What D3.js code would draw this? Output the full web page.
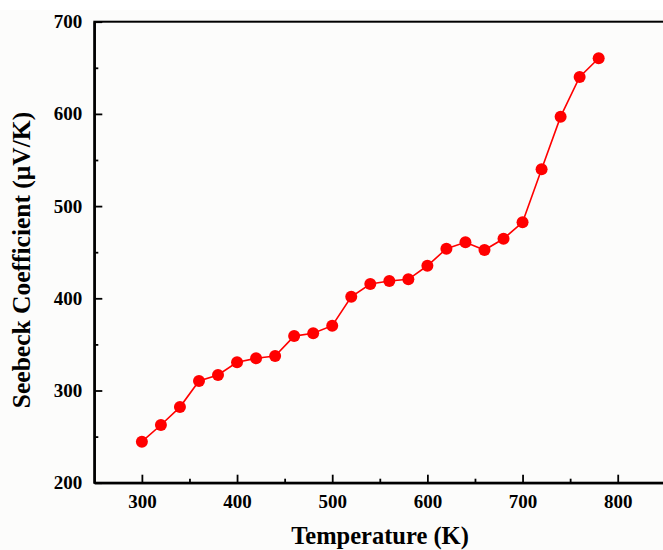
<!DOCTYPE html>
<html>
<head>
<meta charset="utf-8">
<script src="https://cdn.jsdelivr.net/npm/d3@7"></script>
<style>
html,body{margin:0;padding:0;background:#fff;}
svg{display:block;}
text{font-family:"Liberation Serif","Times New Roman",serif;font-weight:bold;fill:#000;}
</style>
</head>
<body>
<svg id="chart" width="663" height="550"></svg>
<script>
const temperature = [300,320,340,360,380,400,420,440,460,480,500,520,540,560,580,600,620,640,660,680,700,720,740,760,780];
const seebeck = [244.5,262.6,282,310.3,316.8,330.6,334.9,337.4,359,362,370.3,401.7,415.5,418.8,420.6,435.3,453.8,460.7,452.4,464.6,482.4,540,597,640,660.3];
const xTicks = [300,400,500,600,700,800];
const xMinorTicks = [350,450,550,650,750];
const yTicks = [200,300,400,500,600,700];
const yMinorTicks = [250,350,450,550,650];
const xTitle = "Temperature (K)";
const yTitle = "Seebeck Coefficient (\u03BCV/K)";

const svg = d3.select("#chart");
const mLeft = 94.3, mRight = 665.3, mTop = 21.7, mBottom = 482.7;

svg.append("rect").attr("x",0).attr("y",10).attr("width",663).attr("height",540).attr("fill","#fcfcfb");

const x = d3.scaleLinear().domain([250,850]).range([mLeft,mRight]);
const y = d3.scaleLinear().domain([200,700]).range([mBottom,mTop]);

// frame
svg.append("rect").attr("x",mLeft).attr("y",mTop).attr("width",mRight-mLeft).attr("height",mBottom-mTop)
  .attr("fill","none").attr("stroke","#000").attr("stroke-width",2);

// x axis
svg.append("g").attr("transform",`translate(0,${mBottom})`)
  .call(d3.axisBottom(x).tickValues(xTicks).tickFormat(d3.format("d")).tickSizeInner(-8).tickSizeOuter(0).tickPadding(12));
svg.append("g").attr("transform",`translate(0,${mBottom})`)
  .call(d3.axisBottom(x).tickValues(xMinorTicks).tickFormat("").tickSizeInner(-4).tickSizeOuter(0));
// y axis
svg.append("g").attr("transform",`translate(${mLeft},0)`)
  .call(d3.axisLeft(y).tickValues(yTicks).tickFormat(d3.format("d")).tickSizeInner(-8).tickSizeOuter(0).tickPadding(12));
svg.append("g").attr("transform",`translate(${mLeft},0)`)
  .call(d3.axisLeft(y).tickValues(yMinorTicks).tickFormat("").tickSizeInner(-4).tickSizeOuter(0));

svg.selectAll(".domain").attr("stroke","#000").attr("stroke-width",2);
svg.selectAll(".tick line").attr("stroke","#000").attr("stroke-width",1.8);
svg.selectAll(".tick text").attr("font-size",19).attr("font-family","'Liberation Serif','Times New Roman',serif").attr("font-weight","bold");

// titles
svg.append("text").attr("x",380).attr("y",544).attr("text-anchor","middle")
  .attr("font-size",24.5).text(xTitle);
svg.append("text").attr("transform","translate(30,260) rotate(-90)").attr("text-anchor","middle")
  .attr("font-size",25.5).text(yTitle);

// data
const data = temperature.map((t,i)=>({t, s: seebeck[i]}));
svg.append("path").datum(data)
  .attr("fill","none").attr("stroke","#ff0000").attr("stroke-width",1.6)
  .attr("d", d3.line().x(d=>x(d.t)).y(d=>y(d.s)));
svg.selectAll("circle.pt").data(data).enter().append("circle").attr("class","pt")
  .attr("cx",d=>x(d.t)).attr("cy",d=>y(d.s)).attr("r",6).attr("fill","#ff0000");
</script>
</body>
</html>
